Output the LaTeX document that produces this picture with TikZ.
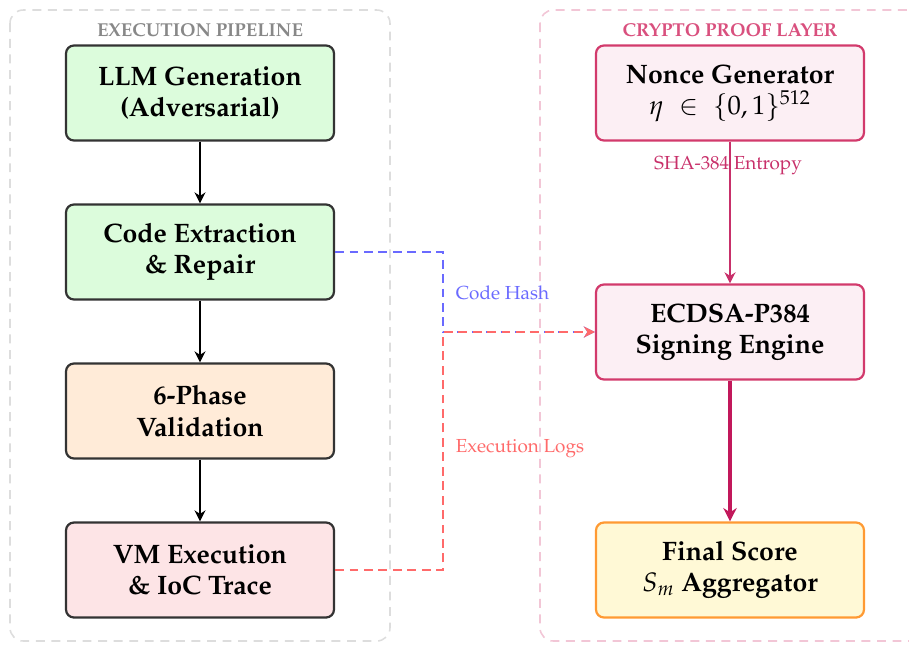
\documentclass[tikz,border=0pt]{standalone}
\usepackage[T1]{fontenc}
\usepackage{mathpazo}
\usetikzlibrary{arrows.meta}
\definecolor{gfill}{HTML}{DCFCDC}
\definecolor{ofill}{HTML}{FFEBD8}
\definecolor{rfill}{HTML}{FDE4E6}
\definecolor{boxline}{HTML}{333333}
\definecolor{cfill}{HTML}{FCEFF4}
\definecolor{cline}{HTML}{D23A6C}
\definecolor{yfill}{HTML}{FFF9D6}
\definecolor{yline}{HTML}{FF9A33}
\definecolor{arrpink}{HTML}{C8306A}
\definecolor{arrdeep}{HTML}{C2185B}
\definecolor{hashblue}{HTML}{6A6AFF}
\definecolor{logred}{HTML}{FF6A6A}
\definecolor{graytitle}{HTML}{888888}
\definecolor{pinktitle}{HTML}{D9507E}
\definecolor{graybox}{HTML}{DDDDDD}
\definecolor{pinkbox}{HTML}{F2C6D6}
\begin{document}
\begin{tikzpicture}[x=0.45pt,y=-0.45pt,
  stage/.style={draw=boxline,line width=1pt,rounded corners=3.6pt,minimum width=120.6pt,minimum height=42.75pt,align=center,font=\fontsize{12}{14}\selectfont\bfseries,inner sep=2pt},
  cstage/.style={stage,draw=cline,fill=cfill},
  container/.style={dashed,dash pattern=on 4pt off 3pt,line width=0.7pt,rounded corners=6pt},
  ctitle/.style={font=\fontsize{8.4}{10}\selectfont\bfseries},
  flow/.style={-{Stealth[length=5pt,width=5pt]},line width=0.7pt,black},
  sig/.style={dashed,dash pattern=on 4pt off 2.5pt,line width=0.8pt,-{Stealth[length=5pt,width=5pt]}},
  lbl/.style={font=\fontsize{8.5}{10}\selectfont}]
\useasboundingbox (0,0) rectangle (909,644);
% containers
\draw[container,draw=graybox] (10,10) rectangle (390,641);
\draw[container,draw=pinkbox] (540,10) rectangle (940,641);
\node[ctitle,text=graytitle] (t1) at (200,30) {EXECUTION PIPELINE};
\node[ctitle,text=pinktitle] (t2) at (730,30) {CRYPTO PROOF LAYER};
% left stages
\node[stage,fill=gfill] (llm) at (200,93) {LLM Generation\\(Adversarial)};
\node[stage,fill=gfill] (code) at (200,252) {Code Extraction\\\& Repair};
\node[stage,fill=ofill] (val) at (200,411) {6-Phase\\Validation};
\node[stage,fill=rfill] (vm) at (200,570) {VM Execution\\\& IoC Trace};
% right stages
\node[cstage] (nonce) at (730,93) {Nonce Generator\\\mdseries$\eta\;\in\;\{0,1\}^{512}$};
\node[cstage] (ecdsa) at (730,332) {ECDSA-P384\\Signing Engine};
\node[stage,draw=yline,fill=yfill] (final) at (730,570) {Final Score\\$S_m$ Aggregator};
% flows
\draw[flow] (llm) -- (code);
\draw[flow] (code) -- (val);
\draw[flow] (val) -- (vm);
\draw[-{Stealth[length=5pt,width=5pt]},line width=0.8pt,arrpink] (nonce) -- (ecdsa);
\node[lbl,text=arrpink] (sha) at (728,166) {SHA-384 Entropy};
\draw[-{Stealth[length=6pt,width=6pt]},line width=1.4pt,arrdeep] (ecdsa) -- (final);
% signals
\coordinate (jx) at (443,332);
\draw[sig,hashblue] (code.east) -| (jx) -- (ecdsa.west);
\draw[sig,logred] (vm.east) -| (jx) -- (ecdsa.west);
\node[lbl,text=hashblue,anchor=west] (ch) at (448,293) {Code Hash};
\node[lbl,text=logred,anchor=west] (el) at (448,449) {Execution Logs};
\end{tikzpicture}
\end{document}
